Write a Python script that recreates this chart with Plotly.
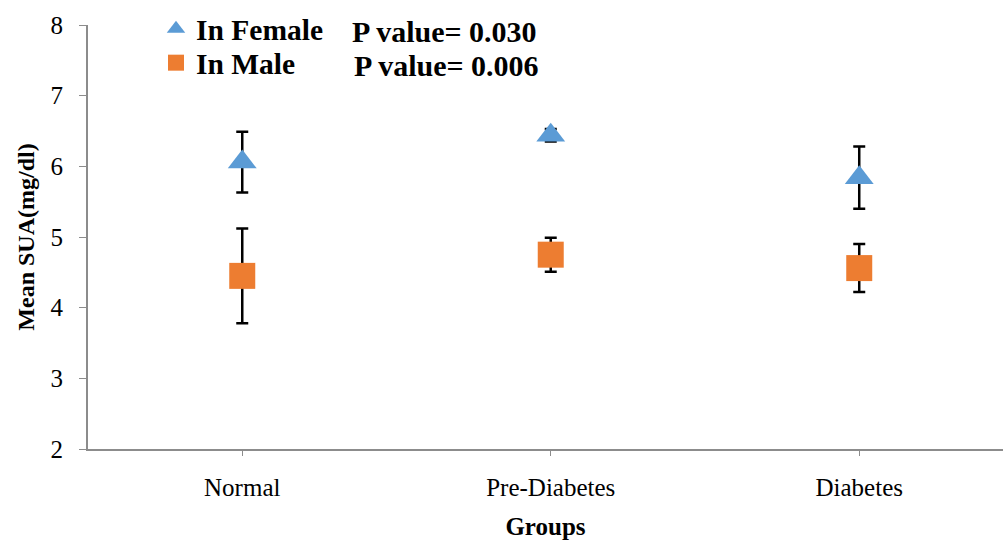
import plotly.graph_objects as go

groups = ["Normal", "Pre-Diabetes", "Diabetes"]
female_mean = [6.06, 6.44, 5.84]
female_err = [0.43, 0.09, 0.44]
male_mean = [4.45, 4.75, 4.56]
male_err = [0.67, 0.24, 0.34]
p_female = "P value= 0.030"
p_male = "P value= 0.006"

FONT = "Liberation Serif"
L, T, W, H = 88, 25, 915, 424   # plot area in px


def px_x(v):
    return (v - L) / W


def px_y(v):
    return 1 - (v - T) / H


fig = go.Figure()
fig.add_trace(go.Scatter(
    x=groups, y=female_mean, mode="markers", name="<b>In Female</b>", legend="legend",
    marker=dict(symbol="triangle-up", size=25, color="#5B9BD5"),
    error_y=dict(type="data", array=female_err, color="black", thickness=2.5, width=6),
))
fig.add_trace(go.Scatter(
    x=groups, y=male_mean, mode="markers", name="<b>In Male</b>", legend="legend2",
    marker=dict(symbol="square", size=26, color="#ED7D31"),
    error_y=dict(type="data", array=male_err, color="black", thickness=2.5, width=6),
))

fig.add_annotation(xref="paper", yref="paper", x=px_x(350), y=px_y(31),
                   xanchor="left", yanchor="middle", showarrow=False,
                   text="<b>" + p_female + "</b>", font=dict(family=FONT, size=30, color="black"))
fig.add_annotation(xref="paper", yref="paper", x=px_x(352), y=px_y(65),
                   xanchor="left", yanchor="middle", showarrow=False,
                   text="<b>" + p_male + "</b>", font=dict(family=FONT, size=30, color="black"))

leg_common = dict(xanchor="left", yanchor="middle", bgcolor="rgba(0,0,0,0)",
                  font=dict(family=FONT, size=29.5, color="black"), itemwidth=30, borderwidth=0)

fig.update_layout(
    width=1003, height=540,
    margin=dict(l=L, r=0, t=T, b=540 - T - H, autoexpand=False),
    paper_bgcolor="white", plot_bgcolor="white",
    font=dict(family=FONT, size=25, color="black"),
    showlegend=True,
    legend=dict(x=px_x(156), y=px_y(29), **leg_common),
    legend2=dict(x=px_x(156), y=px_y(63), **leg_common),
    xaxis=dict(
        range=[-0.5, 2.466], showgrid=False, zeroline=False,
        showline=True, linecolor="#8c8c8c", linewidth=2,
        ticks="outside", ticklen=5, tickcolor="#8c8c8c", tickwidth=1,
        tickfont=dict(family=FONT, size=25), ticklabelstandoff=10,
        title=dict(text="<b>Groups</b>", font=dict(family=FONT, size=25), standoff=17),
    ),
    yaxis=dict(
        range=[2, 8], dtick=1, showgrid=False, zeroline=False,
        showline=True, linecolor="#8c8c8c", linewidth=2,
        ticks="outside", ticklen=7, tickcolor="#8c8c8c", tickwidth=1,
        tickfont=dict(family=FONT, size=25), ticklabelstandoff=11,
        title=dict(text="<b>Mean SUA(mg/dl)</b>", font=dict(family=FONT, size=24), standoff=9),
    ),
)

fig.write_html("out.html", config={"displayModeBar": False},
               post_script="document.body.style.margin='0';")
